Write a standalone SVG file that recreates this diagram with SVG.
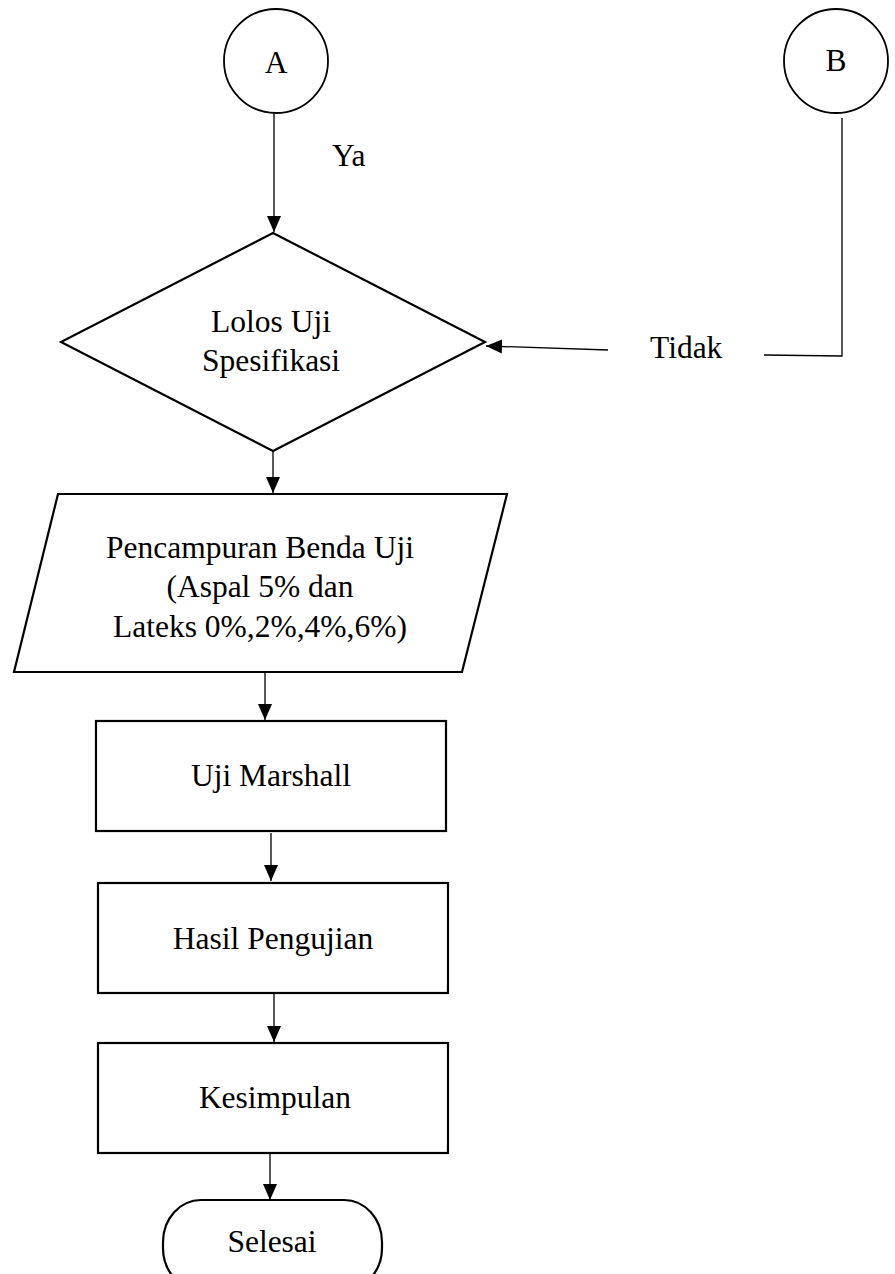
<svg xmlns="http://www.w3.org/2000/svg" width="895" height="1274" viewBox="0 0 895 1274">
<style>
.shape{fill:#fff;stroke:#000;stroke-width:2.2}
.thin{fill:#fff;stroke:#000;stroke-width:1.8}
.conn{fill:none;stroke:#000;stroke-width:1.3}
text{font-family:"Liberation Serif","Times New Roman",serif;font-size:31.5px;fill:#000;text-anchor:middle}
.lbl{text-anchor:start}
</style>
<defs>
<marker id="ah" markerUnits="userSpaceOnUse" markerWidth="16" markerHeight="14" refX="16" refY="7" orient="auto">
<path d="M0,0 L16,7 L0,14 Z" fill="#000"/>
</marker>
</defs>
<rect width="895" height="1274" fill="#fff"/>
<g id="connectors">
<line class="conn" x1="274" y1="113" x2="274" y2="232" marker-end="url(#ah)"/>
<text class="lbl" x="332" y="166">Ya</text>
<polyline class="conn" points="842,118 842,356 764,355"/>
<text class="lbl" x="650" y="358">Tidak</text>
<line class="conn" x1="608" y1="350" x2="486" y2="346" marker-end="url(#ah)"/>
<line class="conn" x1="273" y1="451" x2="273" y2="493" marker-end="url(#ah)"/>
<line class="conn" x1="265" y1="673" x2="265" y2="720" marker-end="url(#ah)"/>
<line class="conn" x1="271" y1="833" x2="271" y2="881" marker-end="url(#ah)"/>
<line class="conn" x1="274" y1="994" x2="274" y2="1042" marker-end="url(#ah)"/>
<line class="conn" x1="270" y1="1154" x2="270" y2="1200" marker-end="url(#ah)"/>
</g>
<g id="nodeA">
<circle class="thin" cx="276" cy="61" r="52"/>
<text x="276" y="73">A</text>
</g>
<g id="nodeB">
<circle class="thin" cx="836" cy="61" r="52"/>
<text x="836" y="71">B</text>
</g>
<g id="decision">
<polygon class="shape" points="273,233 485,342 273,451 61,342"/>
<text x="271" y="332">Lolos Uji</text>
<text x="271" y="371">Spesifikasi</text>
</g>
<g id="mixing">
<polygon class="shape" points="58,494 507,494 462,672 14,672"/>
<text x="260" y="558">Pencampuran Benda Uji</text>
<text x="260" y="597">(Aspal 5% dan</text>
<text x="260" y="637">Lateks 0%,2%,4%,6%)</text>
</g>
<g id="marshall">
<rect class="shape" x="96" y="721" width="350" height="110"/>
<text x="271" y="786">Uji Marshall</text>
</g>
<g id="hasil">
<rect class="shape" x="98" y="883" width="350" height="110"/>
<text x="273" y="949">Hasil Pengujian</text>
</g>
<g id="kesimpulan">
<rect class="shape" x="98" y="1043" width="350" height="110"/>
<text x="275" y="1108">Kesimpulan</text>
</g>
<g id="selesai">
<rect class="shape" x="163" y="1200" width="219" height="90" rx="38" ry="42"/>
<text x="272" y="1252">Selesai</text>
</g>
</svg>
